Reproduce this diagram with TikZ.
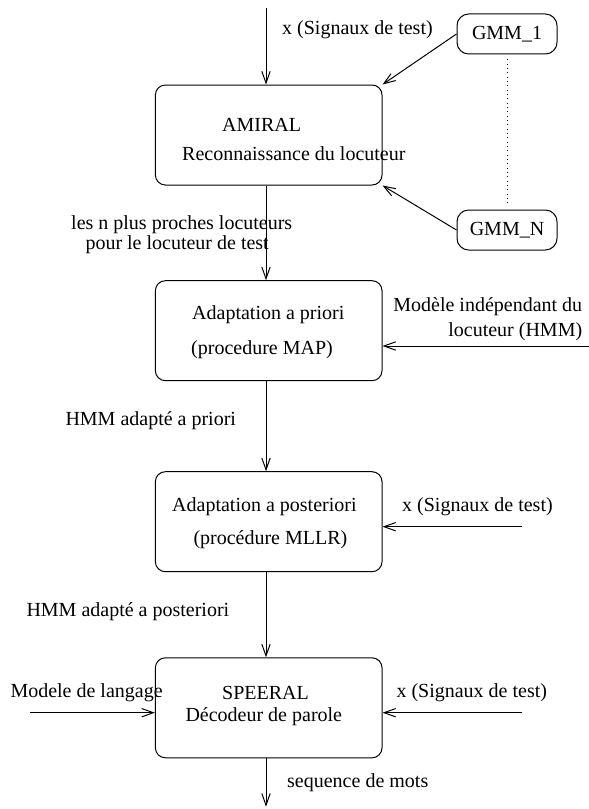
\documentclass[tikz,border=0pt]{standalone}
\usepackage{fontspec}
\setmainfont{Liberation Serif}
\newfontfamily\serifpolice{Liberation Serif}
\usepackage{tikz}
\usetikzlibrary{arrows.meta,calc,positioning}

\tikzset{
  bloc/.style={draw, rounded corners=6pt, minimum width=136pt, minimum height=60pt, inner sep=0pt},
  gmmbox/.style={draw, rounded corners=7pt, minimum width=60pt, minimum height=24pt, inner sep=0pt},
  lbl/.style={inner sep=0pt, anchor=west},
  fleche/.style={-{Straight Barb[length=7pt,width=5pt]}, line width=0.6pt}
}

\begin{document}
\begin{tikzpicture}[x=0.6pt, y=-0.6pt, font=\serifpolice\fontsize{12}{12}\selectfont, line width=0.6pt]
\useasboundingbox (0,0) rectangle (589,809);
% Blocs
\node[bloc] (amiral) at (268.7,135) {};
\node[bloc] (priori) at (268.7,330.7) {};
\node[bloc] (poster) at (268.7,521.7) {};
\node[bloc] (speeral) at (268.7,707.8) {};
\node[gmmbox] (gmmA) at (507,34) {GMM\_1};
\node[gmmbox] (gmmN) at (507,230) {GMM\_N};
% Textes des blocs
\node[lbl] (tamiral) at (221.7,125) {AMIRAL};
\node[lbl] (treco) at (181.7,154) {Reconnaissance du locuteur};
\node[lbl] (tadpri) at (191.7,315) {Adaptation a priori};
\node[lbl] (tmap) at (190.7,350) {(procedure MAP)};
\node[lbl] (tadpost) at (171.7,506.7) {Adaptation a posteriori};
\node[lbl] (tmllr) at (193,539.3) {(procédure MLLR)};
\node[lbl] (tspeeral) at (221.7,693) {SPEERAL};
\node[lbl] (tdecod) at (185,716.7) {Décodeur de parole};
% Etiquettes des fleches
\node[lbl] (sigA) at (281.7,30) {x (Signaux de test)};
\node[lbl] (proA) at (70.7,225) {les n plus proches locuteurs};
\node[lbl] (proB) at (85,245) {pour le locuteur de test};
\node[lbl, anchor=east] (indA) at (582.7,306.7) {Modèle indépendant du};
\node[lbl, anchor=east] (indB) at (582.7,331.7) {locuteur (HMM)};
\node[lbl] (hmmpri) at (65,420.7) {HMM adapté a priori};
\node[lbl] (sigB) at (401.7,506.7) {x (Signaux de test)};
\node[lbl] (hmmpost) at (26,611.7) {HMM adapté a posteriori};
\node[lbl] (langage) at (10,693) {Modele de langage};
\node[lbl] (sigC) at (396,693) {x (Signaux de test)};
\node[lbl] (mots) at (286.7,783) {sequence de mots};
% Extremites libres
\coordinate (entree) at (266,8);
\coordinate (hmmin) at (589,346);
\coordinate (sigin) at (521.7,526.7);
\coordinate (langin) at (30,712.7);
\coordinate (sigCin) at (522,712.7);
\coordinate (sortie) at (266,806.7);
% Connexions
\draw[fleche] (entree) -- (entree |- amiral.north);
\draw[fleche] (gmmA.west) -- (amiral.north east);
\draw[fleche] (gmmN.west) -- (amiral.south east);
\draw[dotted, shorten >=4pt, shorten <=3pt] (gmmA.south) -- (gmmN.north);
\draw[fleche] (entree |- amiral.south) -- (entree |- priori.north);
\draw[fleche] (hmmin) -- (hmmin -| priori.east);
\draw[fleche] (entree |- priori.south) -- (entree |- poster.north);
\draw[fleche] (sigin) -- (sigin -| poster.east);
\draw[fleche] (entree |- poster.south) -- (entree |- speeral.north);
\draw[fleche] (langin) -- (langin -| speeral.west);
\draw[fleche] (sigCin) -- (sigCin -| speeral.east);
\draw[fleche] (entree |- speeral.south) -- (sortie);
\end{tikzpicture}
\end{document}
